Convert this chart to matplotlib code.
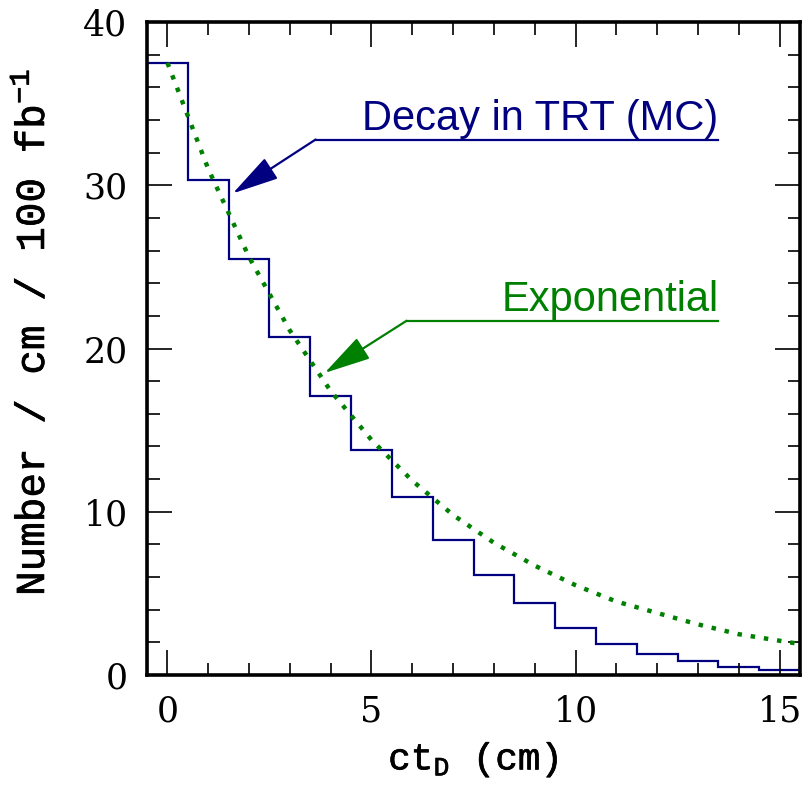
import numpy as np
import matplotlib
matplotlib.use("Agg")
import matplotlib.pyplot as plt
import matplotlib.patheffects as pe

# histogram (MC decays in TRT), bins of 1 cm centred on integers
bin_edges = [-0.5, 0.5, 1.5, 2.5, 3.5, 4.5, 5.5, 6.5, 7.5, 8.5, 9.5,
             10.5, 11.5, 12.5, 13.5, 14.5, 15.5]
mc_counts = [37.5, 30.3, 25.5, 20.7, 17.1, 13.8, 10.9, 8.3, 6.1, 4.4,
             2.9, 1.9, 1.3, 0.85, 0.5, 0.3]

# exponential curve
exp_x = [0, 1, 2, 3, 4, 5, 6, 7, 8, 9, 10, 11, 12, 13, 14, 15, 15.5]
exp_y = [37.5, 31.0, 25.6, 21.1, 17.4, 14.4, 11.9, 9.8, 8.1, 6.7,
         5.5, 4.5, 3.8, 3.1, 2.5, 2.1, 1.9]

x_ticks = [0, 5, 10, 15]
y_ticks = [0, 10, 20, 30, 40]

NAVY = "#000080"
GREEN = "#008000"

plt.rcParams["mathtext.fontset"] = "custom"
plt.rcParams["mathtext.rm"] = "Liberation Mono"
plt.rcParams["mathtext.it"] = "Liberation Mono"

fig = plt.figure(figsize=(8.06, 7.86), dpi=100)
ax = fig.add_axes([0.1824, 0.1412, 0.8102, 0.8308])

ax.stairs(mc_counts, bin_edges, color=NAVY, linewidth=1.6)
ax.plot(exp_x, exp_y, color=GREEN, linewidth=3.2,
        linestyle=(0, (1.0, 2.0)), dash_capstyle="butt")

ax.set_xlim(-0.5, 15.5)
ax.set_ylim(0, 40)
ax.set_xticks(x_ticks)
ax.set_yticks(y_ticks)
ax.set_xticks(np.arange(0, 16, 1), minor=True)
ax.set_yticks(np.arange(0, 41, 2), minor=True)

for s in ax.spines.values():
    s.set_linewidth(2.6)
ax.tick_params(which="both", direction="in", top=True, right=True, width=1.2)
ax.tick_params(which="major", length=18, pad=14, labelsize=25)
ax.tick_params(which="minor", length=9)
for lab in ax.get_xticklabels() + ax.get_yticklabels():
    lab.set_family("DejaVu Serif")

# a bit heavier strokes for the axis titles
heavy = [pe.withStroke(linewidth=0.5, foreground="black")]
ax.set_xlabel(r"ct$_{\mathrm{D}}$ (cm)", family="Liberation Mono",
              fontsize=27, labelpad=8, path_effects=heavy)
ax.set_ylabel(r"Number / cm / 100 fb$^{-1}$", family="Liberation Mono",
              fontsize=29.5, path_effects=heavy)
ax.yaxis.set_label_coords(-0.145, 0.525)

# labels with underline and arrow
ax.text(13.5, 33.4, "Decay in TRT (MC)", color=NAVY, fontsize=30,
        family="Liberation Sans", ha="right", va="baseline")
ax.plot([3.63, 13.5], [32.8, 32.8], color=NAVY, linewidth=1.6)
ax.annotate("", xy=(1.6, 29.5), xytext=(3.63, 32.8),
            arrowprops=dict(arrowstyle="-|>,head_length=1.45,head_width=0.38",
                            mutation_scale=20, color=NAVY, linewidth=1.6,
                            shrinkA=0, shrinkB=0))

ax.text(13.5, 22.3, "Exponential", color=GREEN, fontsize=30,
        family="Liberation Sans", ha="right", va="baseline")
ax.plot([5.86, 13.5], [21.7, 21.7], color=GREEN, linewidth=1.6)
ax.annotate("", xy=(3.85, 18.5), xytext=(5.86, 21.7),
            arrowprops=dict(arrowstyle="-|>,head_length=1.45,head_width=0.38",
                            mutation_scale=20, color=GREEN, linewidth=1.6,
                            shrinkA=0, shrinkB=0))

fig.savefig("out.png", dpi=100)
